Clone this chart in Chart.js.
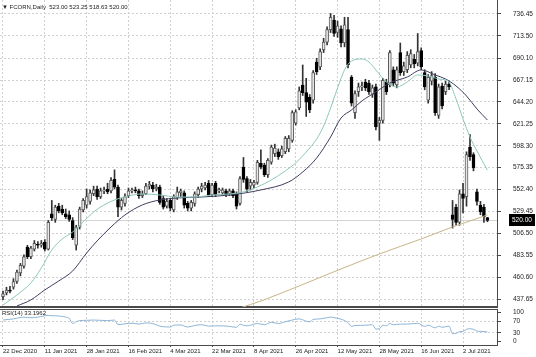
<!DOCTYPE html>
<html><head><meta charset="utf-8">
<script src="https://cdn.jsdelivr.net/npm/chart.js@4.4.1/dist/chart.umd.min.js"></script>
<style>
html,body{margin:0;padding:0;background:#fff;width:536px;height:357px;overflow:hidden;}
#wrap{position:relative;width:536px;height:357px;background:#fff;}
#main{position:absolute;left:0;top:0;}
#rsi{position:absolute;left:0;top:309px;}
.lbl{position:absolute;font-family:'Liberation Sans',Arial,sans-serif;font-size:6px;color:#222;white-space:pre;line-height:1;}
</style></head><body>
<div id="wrap">
<canvas id="main" width="536" height="309"></canvas>
<canvas id="rsi" width="536" height="48"></canvas>
<div class="lbl" id="hdr" style="left:2px;top:4px;"></div>
<div class="lbl" id="rsiLbl" style="left:2px;top:310px;"></div>
</div>
<script>
// ---- data ----
const dateLabels = ['22 Dec 2020','11 Jan 2021','28 Jan 2021','16 Feb 2021','4 Mar 2021','22 Mar 2021','8 Apr 2021','26 Apr 2021','12 May 2021','28 May 2021','16 Jun 2021','2 Jul 2021'];
const dateTickIdx = [0,12,24,36,48,60,72,84,96,108,120,132];
const priceTicks = [437.65,460.60,483.55,506.50,529.45,552.40,575.35,598.30,621.25,644.20,667.15,690.10,713.50,736.45];
const rsiTicks = [0,30,70,100];

const openP  = [440,444,447,450,456,465,472,492,482,490,495,494,497,490,527,521,535,532,527,526,520,494,513,531,536,540,548,553,545,551,553,551,563,555,534,538,546,551,552,551,546,548,556,557,553,555,543,535,541,531,544,549,549,538,533,538,547,553,554,559,547,559,551,549,551,548,551,548,538,576,564,556,557,560,580,578,568,581,590,592,588,592,595,604,622,638,662,654,649,646,686,681,699,707,720,730,717,721,706,720,670,633,655,660,665,664,652,660,622,625,665,662,678,662,696,676,678,683,689,685,698,675,646,666,670,630,661,655,663,526,534,518,548,545,597,589,550,536,534,523];
const highP  = [446,450,451,459,468,475,484,494,493,499,498,499,500,520,541,536,538,536,532,530,523,515,534,543,553,552,556,556,554,555,559,565,573,557,543,548,554,554,555,553,551,559,561,560,558,557,546,543,543,547,555,553,551,540,541,550,555,559,560,562,559,561,554,554,553,553,553,550,566,586,566,563,562,583,594,580,585,599,600,595,598,608,609,635,636,660,683,669,652,677,690,700,711,723,737,735,729,724,733,733,672,656,664,665,668,667,662,663,628,669,668,698,681,681,706,686,697,699,694,716,701,678,673,676,674,663,664,666,666,541,537,552,559,592,610,591,553,540,537,523.25];
const lowP   = [437,442,444,448,454,462,470,480,480,488,491,492,488,489,520,518,528,526,522,519,500,489,511,529,533,537,546,542,543,548,548,549,553,524,531,535,544,549,549,543,544,547,553,550,551,537,532,533,530,529,542,545,533,530,530,535,544,550,552,545,545,545,549,547,545,546,544,532,536,560,550,552,554,558,574,566,565,579,587,584,586,590,592,602,620,636,651,629,633,643,673,678,696,704,717,713,712,702,702,680,640,627,650,656,656,652,649,615,604,622,652,660,661,659,672,672,675,680,680,682,678,657,643,662,630,627,637,652,657,512,515,515,528,535,583,572,536,526,518,518.63];
const closeP = [443,447,446,456,466,473,482,482,491,496,494,496,490,518,523,534,530,528,524,521,502,513,532,541,545,549,552,545,551,552,550,562,555,534,541,545,551,552,551,546,548,556,558,553,555,539,534,540,533,545,550,551,536,533,539,548,553,556,557,547,557,547,552,552,547,551,546,535,564,563,553,560,560,581,576,568,583,597,596,587,595,606,606,633,634,656,654,644,636,675,676,697,707,720,733,716,724,706,725,683,643,653,660,661,659,655,659,618,625,667,655,696,664,678,675,682,693,695,684,697,681,660,670,672,633,660,640,663,660,521,518,548,543,589,587,575,540,529,524,520.00];

const fastIdx = [0,4,8,11,14,17,20,23,26,29,32,36,40,45,50,55,60,65,69,73,77,81,84,87,90,92,94,96,98,100,103,105,107,110,113,116,119,122,125,127,128,130,132,134,136,139];
const fastVal = [431.4,441.9,454.5,470.2,489.1,500.6,507.9,518.4,528.9,536.3,541.5,545.7,547.8,546.7,544.6,544.6,546.7,547.8,549.9,555.1,562.5,571.9,580.3,591.8,605.4,619.0,637.9,658.9,677.8,687.2,689.3,686.1,677.8,665.2,659.9,665.2,672.5,671.5,668.3,667.3,665.2,647.4,626.4,607.5,592.8,572.9];
const slowIdx = [4,8,12,16,20,24,27,31,35,40,45,50,57,65,74,82,86,90,94,97,100,103,107,111,116,120,124,127,130,133,136,139];
const slowVal = [430.4,436.7,447.2,456.6,467.1,485.9,498.5,513.2,525.8,536.3,541.5,543.6,544.6,546.7,552.0,560.4,570.8,585.5,607.5,627.4,635.8,645.3,654.7,664.1,670.4,677.8,672.5,668.3,661.0,650.5,636.9,625.3];
const longIdx = [68,74,85,97,108,120,129,134,139];
const longVal = [428.3,435.6,451.4,469.2,484.9,500.6,513.2,519.5,525.8];

const rsiIdx = [0,3,6,8,10,13,14,16,18,19,20,21,22,24,26,28,30,32,33,35,37,39,41,43,45,46,48,49,51,53,55,57,59,61,63,65,67,68,69,70,73,75,77,79,81,83,85,87,88,89,91,93,94,95,97,99,100,101,104,106,107,108,109,110,111,112,114,116,118,119,120,121,122,124,125,126,128,129,130,131,132,133,134,135,136,137,139];
const rsiVal = [74,78,84,82,84,90,89,88,84,80,62,68,72,73,74,73,72,74,58,61,63,60,64,62,53,51,50,56,57,50,55,58,53,54,54,52,49,60,56,54,62,58,66,62,68,74,78,70,68,76,78,82,84,82,77,65,52,55,56,58,43,44,56,54,62,58,60,60,62,63,58,52,56,47,53,49,53,27,28,34,35,42,44,42,36,35,33.1962];

// ---- build ----
const N = openP.length;
const last = N - 1;
const FONT = "'Liberation Sans', Arial, sans-serif";
Chart.defaults.font.family = FONT;
Chart.defaults.color = '#222';

const xMin = -0.86, xMax = 141.75;
const yMin = 429.3, yMax = 751.1;
const GRID = '#d0d0d0';
const AXIS = '#4a4a4a';

document.getElementById('hdr').textContent = '\u25BC FCORN,Daily  ' + [openP[last], highP[last], lowP[last], closeP[last]].map(v => v.toFixed(2)).join(' ');
document.getElementById('rsiLbl').textContent = 'RSI(14) ' + rsiVal[rsiVal.length - 1].toFixed(4);

const up = i => closeP[i] >= openP[i];
const wickData = openP.map((_, i) => ({x: i, y: [lowP[i], highP[i]]}));
const bodyData = openP.map((o, i) => ({x: i, y: [o, closeP[i]]}));
const pts = (ix, vs) => ix.map((x, k) => ({x: x, y: vs[k]}));

const xTicksFn = s => { s.ticks = dateTickIdx.map(v => ({value: v})); };

const mainPlugin = {
  id: 'mainDecor',
  beforeDatasetsDraw(chart) {
    const {ctx, chartArea: a, scales: {y}} = chart;
    const py = Math.round(y.getPixelForValue(closeP[last])) + 0.5;
    ctx.save();
    ctx.strokeStyle = '#d4d4d4'; ctx.lineWidth = 1;
    ctx.beginPath(); ctx.moveTo(a.left, py); ctx.lineTo(a.right, py); ctx.stroke();
    ctx.restore();
  },
  afterDraw(chart) {
    const {ctx, chartArea: a, scales: {y}} = chart;
    const py = Math.round(y.getPixelForValue(closeP[last]));
    ctx.save();
    ctx.fillStyle = '#000';
    ctx.fillRect(a.right + 12, py - 6, 26, 12);
    ctx.fillStyle = '#fff';
    ctx.font = '6.5px ' + FONT;
    ctx.textBaseline = 'middle';
    ctx.textAlign = 'left';
    ctx.fillText(closeP[last].toFixed(2), a.right + 15, py + 0.5);
    ctx.restore();
  }
};

new Chart(document.getElementById('main'), {
  type: 'bar',
  data: { datasets: [
    {type: 'line', data: pts(fastIdx, fastVal), borderColor: '#8ec6bb', borderWidth: 1, pointRadius: 0, cubicInterpolationMode: 'monotone', order: 0},
    {type: 'line', data: pts(slowIdx, slowVal), borderColor: '#3e3e5e', borderWidth: 1, pointRadius: 0, cubicInterpolationMode: 'monotone', order: 0},
    {type: 'line', data: pts(longIdx, longVal), borderColor: '#c9b488', borderWidth: 1, pointRadius: 0, cubicInterpolationMode: 'monotone', order: 0},
    {type: 'bar', data: bodyData, grouped: false, barThickness: 3, minBarLength: 1,
      backgroundColor: c => up(c.dataIndex) ? '#e8e8e8' : '#000',
      borderColor: c => up(c.dataIndex) ? '#5a5a5a' : '#000',
      borderWidth: 1, borderSkipped: false, order: 1},
    {type: 'bar', data: wickData, grouped: false, barThickness: 1, backgroundColor: '#333', borderWidth: 0, order: 2}
  ]},
  options: {
    responsive: false, animation: false, events: [],
    layout: {padding: 0},
    plugins: {legend: {display: false}, tooltip: {enabled: false}},
    scales: {
      x: {type: 'linear', min: xMin, max: xMax, offset: false,
        grid: {color: GRID, drawTicks: false, offset: false},
        border: {display: true, color: AXIS, width: 2, dash: [2, 2]},
        ticks: {display: false},
        afterBuildTicks: xTicksFn,
        afterFit: s => { s.height = 2; s.paddingLeft = 0; s.paddingRight = 0; }},
      y: {type: 'linear', position: 'right', min: yMin, max: yMax,
        grid: {color: GRID, tickColor: AXIS, tickLength: 4, tickBorderDash: []},
        border: {display: true, color: AXIS, width: 1, dash: [2, 2]},
        ticks: {padding: 12, color: '#222', font: {size: 6.5}, callback: v => Number(v).toFixed(2)},
        afterBuildTicks: s => { s.ticks = priceTicks.map(v => ({value: v})); },
        afterFit: s => { s.width = 39; s.paddingTop = 0; s.paddingBottom = 0; }}
    }
  },
  plugins: [mainPlugin]
});

const rsiPlugin = {
  id: 'rsiDecor',
  afterDraw(chart) {
    const {ctx, chartArea: a} = chart;
    ctx.save();
    ctx.strokeStyle = AXIS; ctx.lineWidth = 1;
    ctx.beginPath(); ctx.moveTo(0, a.top + 0.5); ctx.lineTo(a.right, a.top + 0.5); ctx.stroke();
    ctx.restore();
  }
};

new Chart(document.getElementById('rsi'), {
  type: 'line',
  data: { datasets: [
    {data: pts(rsiIdx, rsiVal), borderColor: '#8bb4d8', borderWidth: 1, pointRadius: 0, cubicInterpolationMode: 'monotone'}
  ]},
  options: {
    responsive: false, animation: false, events: [],
    layout: {padding: 0},
    plugins: {legend: {display: false}, tooltip: {enabled: false}},
    scales: {
      x: {type: 'linear', min: xMin, max: xMax, offset: false,
        grid: {color: GRID, tickColor: AXIS, tickLength: 2, drawTicks: true, tickBorderDash: []},
        border: {display: true, color: AXIS, width: 1, dash: [2, 2]},
        ticks: {align: 'start', autoSkip: false, maxRotation: 0, minRotation: 0, padding: 1, color: '#222', font: {size: 6}, callback: (v, i) => dateLabels[i]},
        afterBuildTicks: xTicksFn,
        afterFit: s => { s.height = 12; s.paddingLeft = 0; s.paddingRight = 0; }},
      y: {type: 'linear', position: 'right', min: -12, max: 112,
        grid: {color: c => (c.tick && (c.tick.value === 30 || c.tick.value === 70)) ? GRID : 'rgba(0,0,0,0)', tickColor: AXIS, tickLength: 4, tickBorderDash: []},
        border: {display: true, color: AXIS, width: 1, dash: [2, 2]},
        ticks: {padding: 12, color: '#222', font: {size: 6.5}, callback: v => String(v)},
        afterBuildTicks: s => { s.ticks = rsiTicks.map(v => ({value: v})); },
        afterFit: s => { s.width = 39; s.paddingTop = 0; s.paddingBottom = 0; }}
    }
  },
  plugins: [rsiPlugin]
});
</script>
</body></html>
